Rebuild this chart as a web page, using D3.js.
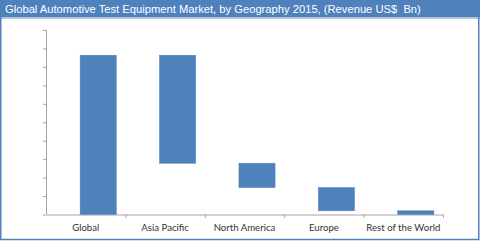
<!DOCTYPE html>
<html>
<head>
<meta charset="utf-8">
<script src="https://cdn.jsdelivr.net/npm/d3@7"></script>
<style>
  body { margin: 0; background: #fff; }
  svg { display: block; }
</style>
</head>
<body>
<div id="chart-area"></div>
<script>
// waterfall: global total then regional split (US$ Bn)
var categories = ['Global', 'Asia Pacific', 'North America', 'Europe', 'Rest of the World'];
var values = [8.63, 5.85, 1.32, 1.26, 0.2];
var yTicks = [0, 1, 2, 3, 4, 5, 6, 7, 8, 9, 10];
var title = 'Global Automotive Test Equipment Market, by Geography 2015, (Revenue US$  Bn)';

var W = 480, H = 241;
var margin = { top: 30, right: 37, bottom: 26.5, left: 46 };
var width = W - margin.left - margin.right;
var height = H - margin.top - margin.bottom;

var svg = d3.select('#chart-area')
    .append('svg')
        .attr('width', W)
        .attr('height', H);

// title band
svg.append('rect')
    .attr('x', 0).attr('y', 0)
    .attr('width', W).attr('height', 17.5)
    .attr('fill', '#4f81bd');
svg.append('rect')
    .attr('x', 0).attr('y', 17.5)
    .attr('width', W).attr('height', 1.5)
    .attr('fill', '#b3c8e4');
svg.append('text')
    .attr('x', 5)
    .attr('y', 12.8)
    .attr('font-family', 'Liberation Sans, Arial, sans-serif')
    .attr('font-size', '11.2px')
    .attr('fill', '#fff')
    .style('white-space', 'pre')
    .text(title);

// panel border
svg.append('rect')
    .attr('x', 0.75).attr('y', 0.75)
    .attr('width', 478).attr('height', 238.75)
    .attr('fill', 'none')
    .attr('stroke', '#4f81bd')
    .attr('stroke-width', 1.5);

var g = svg.append('g')
    .attr('transform', 'translate(' + margin.left + ',' + margin.top + ')');

// running totals for the floating bars
var rows = [];
var level = values[0];
categories.forEach(function (c, i) {
    if (i === 0) {
        rows.push({ cat: c, lo: 0, hi: values[0] });
    } else {
        rows.push({ cat: c, lo: level - values[i], hi: level });
        level -= values[i];
    }
});

var x = d3.scaleBand()
    .domain(categories)
    .range([0, width]);

var y = d3.scaleLinear()
    .domain([0, 10])
    .range([height, 0]);

// Y axis, no labels
var yAxis = g.append('g')
    .call(d3.axisLeft(y).tickValues(yTicks).tickSize(3).tickFormat(''));
yAxis.select('.domain').attr('stroke', '#a6a6a6').attr('d', 'M0.5,0V' + height);
yAxis.selectAll('.tick line').attr('stroke', '#a6a6a6');

// X axis
var xAxis = g.append('g')
    .attr('transform', 'translate(0,' + height + ')')
    .call(d3.axisBottom(x).tickSize(0).tickPadding(10));
xAxis.select('.domain').attr('stroke', '#a6a6a6').attr('d', 'M0.5,0.5H' + width);
xAxis.selectAll('.tick text')
    .attr('font-family', 'Lato, Carlito, sans-serif')
    .attr('font-size', '9.6px')
    .attr('fill', '#333');

// category separators
g.selectAll('.sep')
    .data(categories.slice(1).concat(['end']))
    .enter()
    .append('line')
        .attr('class', 'sep')
        .attr('x1', function (d, i) { return x(categories[0]) + x.bandwidth() * (i + 1) + 0.5; })
        .attr('x2', function (d, i) { return x(categories[0]) + x.bandwidth() * (i + 1) + 0.5; })
        .attr('y1', height)
        .attr('y2', height + 3.5)
        .attr('stroke', '#a6a6a6');

// bars
g.selectAll('rect.bar').data(rows)
    .enter()
    .append('rect')
        .attr('class', 'bar')
        .attr('x', function (d) { return x(d.cat) + x.bandwidth() * 0.43; })
        .attr('y', function (d) { return y(d.hi); })
        .attr('width', x.bandwidth() * 0.455)
        .attr('height', function (d) { return y(d.lo) - y(d.hi); })
        .attr('fill', '#4f81bd')
        .attr('stroke', '#4a7ebb')
        .attr('stroke-width', 0.5);
</script>
</body>
</html>
